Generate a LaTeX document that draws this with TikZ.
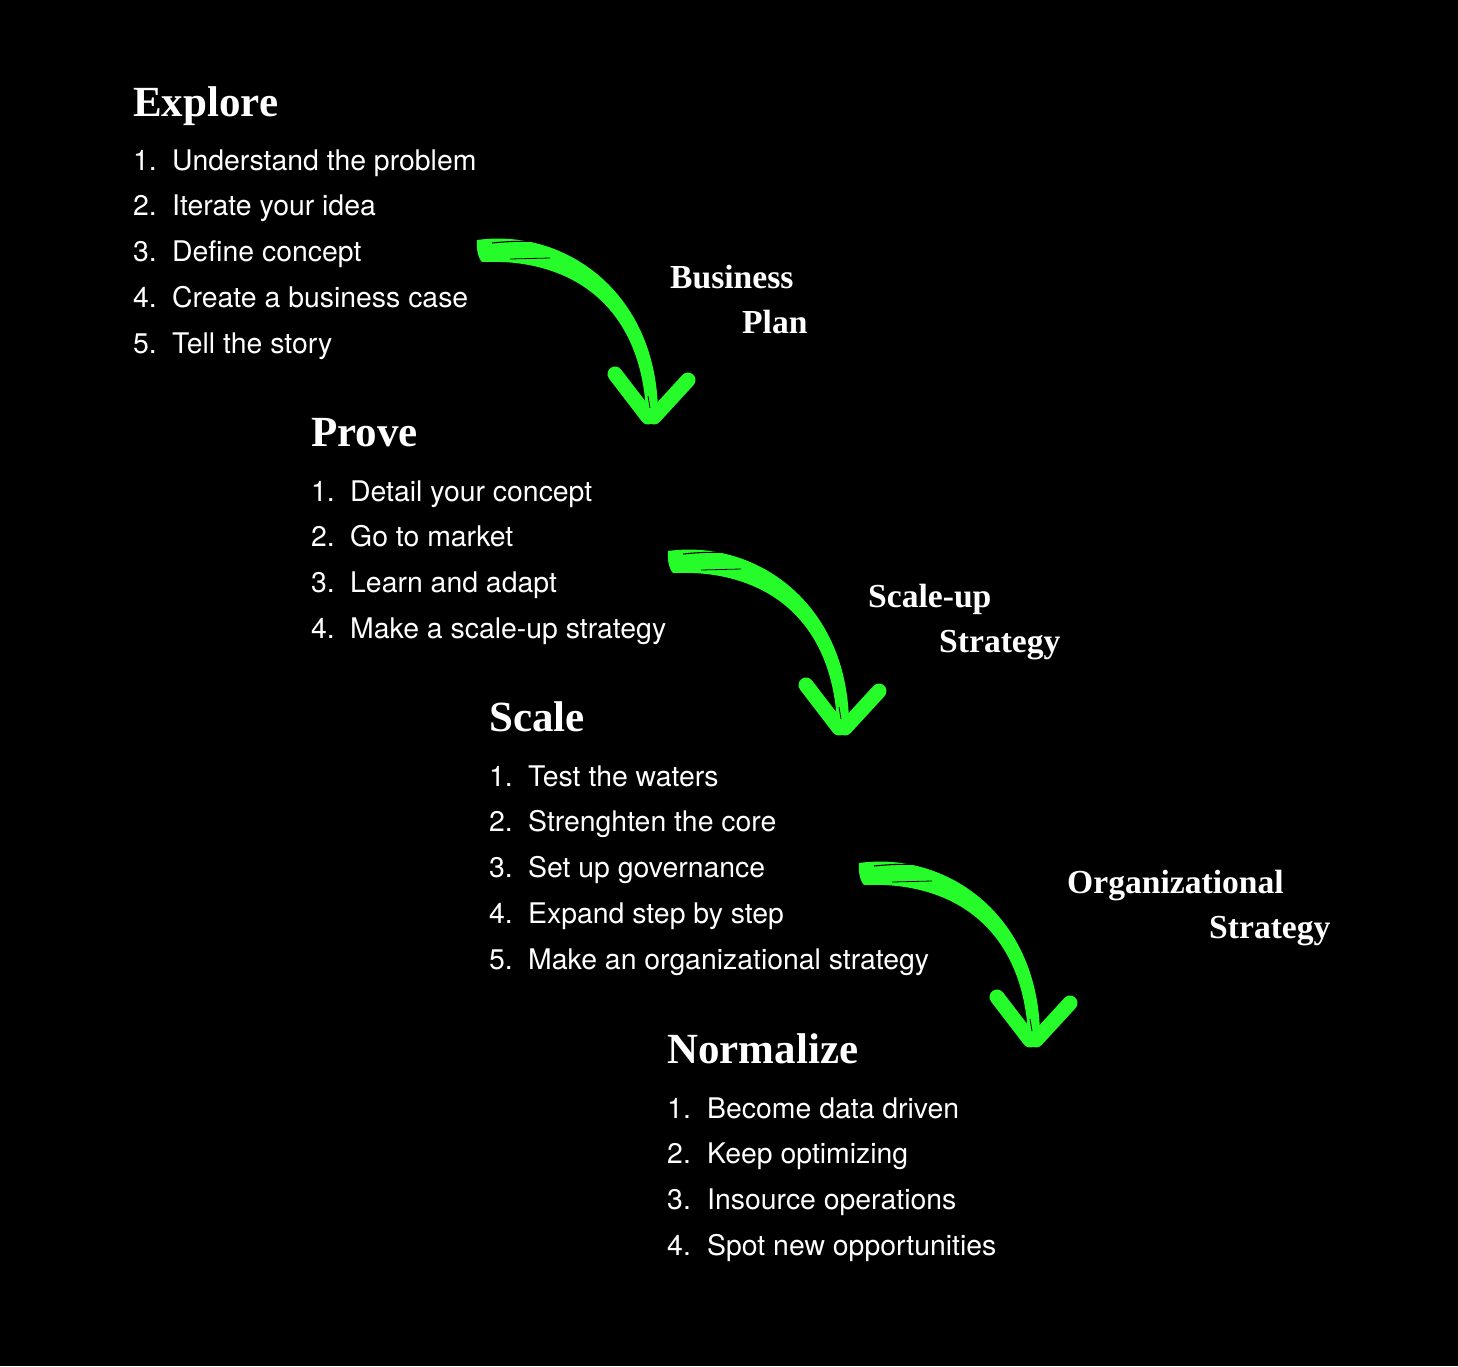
\documentclass[tikz,border=0pt]{standalone}
\usepackage{fontspec}
\newfontfamily\headfont{Liberation Serif}[BoldFont=* Bold]
\newfontfamily\bodyfont{TeX Gyre Heros}
\definecolor{brushgreen}{RGB}{38,252,42}
\tikzset{
  head/.style={anchor=base west, inner sep=0pt, text=white, font=\headfont\bfseries\fontsize{43}{50}\selectfont},
  lab/.style={anchor=base west, inner sep=0pt, text=white, font=\headfont\bfseries\fontsize{33.6}{40}\selectfont},
  itemtext/.style={anchor=base west, inner sep=0pt, text=white, font=\bodyfont\fontsize{28.4}{33}\selectfont},
  brusharrow/.pic={
    \fill[brushgreen] (-3,-6) .. controls (84,-18) and (176,45) .. (178,165)
      -- (166,165) .. controls (160,58) and (90,12) .. (2,16)
      .. controls (-2,12) and (-4,2) .. cycle;
    \draw[brushgreen, line width=15pt, line cap=round] (135,128) -- (168,171);
    \draw[brushgreen, line width=15pt, line cap=round] (208,134) -- (174,171);
    \draw[black, line width=1.1pt] (12,-3) .. controls (40,-6) and (65,-5) .. (88,-1);
    \draw[black, line width=0.8pt] (30,13) -- (70,12);
    \draw[black, line width=0.8pt] (168,150) -- (170,162);
  }
}
\begin{document}
\begin{tikzpicture}[x=1pt,y=-1pt]
\fill[black] (0,0) rectangle (1458,1366);
\useasboundingbox (0,0) rectangle (1458,1366);

% Explore
\node[head] (explore) at (133,116) {Explore};
\foreach \t [count=\i] in {Understand the problem,Iterate your idea,Define concept,Create a business case,Tell the story}{
  \node[itemtext] (exn\i) at (133,{170+45.75*(\i-1)}) {\i.};
  \node[itemtext] (ext\i) at (172,{170+45.75*(\i-1)}) {\t};
}

% Prove
\node[head] (prove) at (311,446) {Prove};
\foreach \t [count=\i] in {Detail your concept,Go to market,Learn and adapt,Make a scale-up strategy}{
  \node[itemtext] (prn\i) at (311,{501+45.75*(\i-1)}) {\i.};
  \node[itemtext] (prt\i) at (350,{501+45.75*(\i-1)}) {\t};
}

% Scale
\node[head] (scale) at (489,731) {Scale};
\foreach \t [count=\i] in {Test the waters,Strenghten the core,Set up governance,Expand step by step,Make an organizational strategy}{
  \node[itemtext] (scn\i) at (489,{786+45.75*(\i-1)}) {\i.};
  \node[itemtext] (sct\i) at (528,{786+45.75*(\i-1)}) {\t};
}

% Normalize
\node[head] (normalize) at (667,1063) {Normalize};
\foreach \t [count=\i] in {Become data driven,Keep optimizing,Insource operations,Spot new opportunities}{
  \node[itemtext] (non\i) at (667,{1118+45.75*(\i-1)}) {\i.};
  \node[itemtext] (not\i) at (707,{1118+45.75*(\i-1)}) {\t};
}

% arrows
\pic (arrowA) at (480,246) {brusharrow};
\pic (arrowB) at (671,557) {brusharrow};
\pic (arrowC) at (862,869) {brusharrow};

% labels
\node[lab] (bus) at (670,288) {Business};
\node[lab] (plan) at (742,333) {Plan};
\node[lab] (scup) at (868,607) {Scale-up};
\node[lab] (strat1) at (939,652) {Strategy};
\node[lab] (org) at (1067,893) {Organizational};
\node[lab] (strat2) at (1209,938) {Strategy};
\end{tikzpicture}
\end{document}
